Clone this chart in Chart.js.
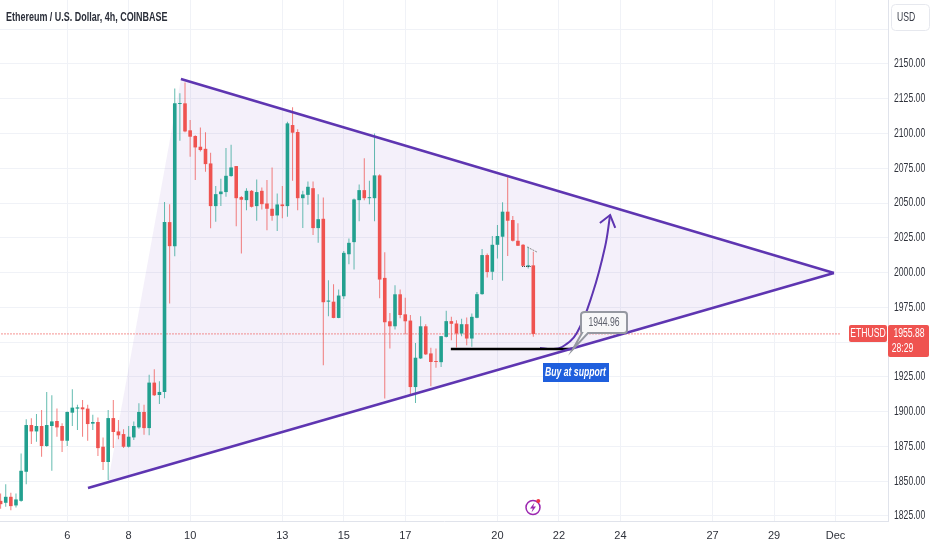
<!DOCTYPE html>
<html lang="en">
<head>
<meta charset="UTF-8">
<title>Ethereum / U.S. Dollar, 4h, COINBASE</title>
<style>
  html, body { margin: 0; padding: 0; background: #fff; }
  canvas { display: block; }
</style>
</head>
<body>
<canvas id="chart" width="932" height="550"></canvas>
<script src="https://cdn.jsdelivr.net/npm/chart.js@4"></script>
<script>
// one value per 4h bar, the first bar is number -13 (bar 0 opens on the 6th)
const firstBar = -13;
const opens = [
  1835.9, 1834.5, 1838.8, 1832.6, 1835.9, 1856.8, 1890.4, 1885.8, 1889.7, 1875.3, 1889.7, 1893.3, 1889.7,
  1879.1, 1899.3, 1902.2, 1903.1, 1902.2, 1891.4, 1892.6, 1874.8, 1863.8, 1895.4, 1885.8, 1883.9, 1874.8, 1881.5, 1888.7, 1899.8, 1888.2, 1920.9, 1912.0, 1914.2,
  2036.3, 2019.0, 2121.2, 2121.7, 2102.3, 2098.2, 2090.5, 2089.0, 2078.5, 2047.8, 2056.4, 2057.9, 2069.4, 2076.6, 2054.3, 2052.1, 2058.8, 2047.8, 2058.8, 2049.7, 2045.9, 2041.1, 2049.0, 2047.8, 2106.1, 2101.1, 2053.5, 2055.9, 2060.7, 2032.0,
  2038.7, 1979.1, 1979.1, 1967.4, 1983.0, 2013.2, 2021.9, 2052.1, 2059.3, 2053.5, 2053.5, 2069.9, 1996.2, 1965.0, 1961.4, 1984.4, 1970.0, 1965.5, 1917.7, 1938.3, 1961.4, 1941.9, 1936.2,
  1935.6, 1953.8, 1965.1, 1963.4, 1956.2, 1962.9, 1952.6, 1967.5, 1984.5, 2012.6, 2000.6, 2020.0, 2025.8, 2043.8, 2037.8, 2022.9, 2020.0, 2004.2, 2005.2
];
const closes = [
  1833.5, 1838.8, 1832.1, 1836.9, 1857.5, 1890.4, 1885.8, 1889.7, 1875.3, 1890.4, 1893.0, 1888.7, 1879.1,
  1899.8, 1902.9, 1903.1, 1901.7, 1891.1, 1892.6, 1873.8, 1863.8, 1895.4, 1885.4, 1883.0, 1874.8, 1882.0, 1889.7, 1899.8, 1888.2, 1920.9, 1911.8, 1914.2, 2036.3,
  2019.0, 2121.7, 2121.7, 2101.5, 2097.7, 2090.0, 2088.1, 2078.0, 2047.8, 2056.4, 2058.3, 2069.6, 2075.6, 2053.5, 2052.4, 2058.8, 2047.3, 2057.9, 2049.2, 2045.9, 2040.8, 2049.0, 2047.8, 2107.3, 2100.6, 2053.5, 2056.2, 2061.7, 2032.0, 2038.4,
  1978.7, 1979.9, 1967.4, 1983.5, 2014.2, 2021.4, 2052.6, 2059.3, 2053.5, 2054.0, 2069.9, 1995.0, 1964.3, 1961.4, 1984.4, 1969.5, 1965.0, 1917.7, 1938.8, 1961.4, 1941.2, 1935.7, 1935.7,
  1954.3, 1965.1, 1963.2, 1956.2, 1962.9, 1952.6, 1968.2, 1984.5, 2012.6, 2000.4, 2020.0, 2026.3, 2043.8, 2037.3, 2022.9, 2019.3, 2004.9, 2005.2, 1955.9
];
const highs = [
  1841.2, 1847.9, 1841.7, 1841.2, 1870.0, 1894.5, 1895.2, 1898.3, 1901.2, 1914.2, 1911.8, 1902.2, 1891.6,
  1900.2, 1916.1, 1905.0, 1908.4, 1905.0, 1897.8, 1895.9, 1881.5, 1901.2, 1908.4, 1894.0, 1887.3, 1889.7, 1893.0, 1906.0, 1905.0, 1926.6, 1930.5, 1921.8, 2050.7,
  2049.2, 2132.3, 2128.9, 2136.6, 2109.7, 2098.7, 2104.4, 2101.0, 2086.2, 2062.2, 2067.5, 2089.5, 2091.9, 2076.6, 2055.0, 2060.7, 2059.3, 2067.0, 2061.2, 2066.5, 2075.6, 2056.9, 2062.2, 2108.5, 2118.8, 2103.0, 2058.8, 2065.5, 2065.5, 2056.4,
  2054.0, 1994.5, 1991.6, 1987.8, 2015.6, 2024.5, 2053.3, 2063.4, 2082.3, 2066.0, 2100.1, 2070.8, 2014.7, 1971.0, 1990.9, 1987.8, 1982.0, 1969.5, 1949.4, 1968.6, 1962.8, 1946.0, 1945.5,
  1954.3, 1972.5, 1968.2, 1965.8, 1966.8, 1967.7, 1970.6, 1986.0, 2016.9, 2013.8, 2026.3, 2034.2, 2050.5, 2068.5, 2040.7, 2035.4, 2020.5, 2018.6, 2015.0
];
const lows = [
  1830.2, 1831.6, 1829.2, 1831.1, 1835.2, 1847.9, 1876.7, 1878.4, 1867.6, 1874.8, 1857.5, 1882.0, 1871.0,
  1875.3, 1889.7, 1886.8, 1882.0, 1879.1, 1886.8, 1868.1, 1858.0, 1850.8, 1873.8, 1880.1, 1873.8, 1874.3, 1879.6, 1887.8, 1883.4, 1883.0, 1911.3, 1905.5, 1909.6,
  1977.7, 2011.8, 2094.8, 2101.0, 2083.3, 2066.5, 2087.1, 2072.5, 2031.9, 2036.5, 2047.8, 2054.5, 2068.9, 2033.4, 2013.7, 2044.9, 2046.8, 2037.2, 2045.4, 2030.5, 2037.2, 2030.0, 2039.1, 2040.1, 2066.0, 2044.9, 2032.0, 2048.7, 2027.1, 2021.4,
  1933.3, 1968.6, 1967.1, 1967.1, 1981.1, 2006.0, 2002.2, 2037.0, 2052.1, 2049.2, 2037.0, 1981.5, 1909.5, 1945.5, 1959.0, 1967.1, 1955.6, 1912.4, 1906.2, 1937.9, 1940.7, 1918.2, 1931.6,
  1932.2, 1953.3, 1951.4, 1946.1, 1954.3, 1947.8, 1946.6, 1967.2, 1984.0, 1996.5, 1994.6, 2010.2, 1994.1, 2011.9, 2022.4, 2019.1, 2004.4, 2003.0, 1953.8
];

// axis ticks
const dayTickBars = [0, 12, 24, 42, 54, 66, 84, 96, 108, 126, 138, 150];
const dayTickLabels = ['6', '8', '10', '13', '15', '17', '20', '22', '24', '27', '29', 'Dec'];
const priceTicks = [1825, 1850, 1875, 1900, 1925, 1950, 1975, 2000, 2025, 2050, 2075, 2100, 2125, 2150, 2175];
const hiddenPriceLabels = [1950, 2175];

// drawings, as [bar, price]
const upperLine = [[22.2, 2139.2], [149.7, 1999.7]];
const lowerLine = [[4.06, 1845.1], [149.7, 1999.7]];
const triangle = [[22.2, 2139.2], [149.7, 1999.7], [7.97, 1849.5], [22.2, 2139.2]];
const supportLine = [[74.9, 1945], [98.75, 1945]];
const curvePath = [[92.3, 1945.8], [94.6, 1945], [96.6, 1946.5], [99.5, 1956.6], [102.6, 1985.3], [105, 2018.4], [106, 2041.4]];
const arrowHead = [[104, 2035.7], [106, 2041.4], [107, 2032.1]];
const dottedFlat = [[88.8, 2004.4], [90.5, 2004.4]];
const dottedSlope = [[89.8, 2018.4], [91.7, 2014.8]];

const lastPrice = 1955.88;
const supportPrice = 1944.96;
const symbolName = 'ETHUSD';
const countdown = '28:29';
const titleText = 'Ethereum / U.S. Dollar, 4h, COINBASE';
const noteText = 'Buy at support';
const currencyText = 'USD';

const UP = '#22a08f', DOWN = '#ef5350';
const UP_WICK = 'rgba(34,160,143,0.7)', DOWN_WICK = 'rgba(239,83,80,0.75)';
const PURPLE = '#5e35b1';
const FONT = '"Liberation Sans", sans-serif';
const SQUEEZE = 0.72; // the reference text is much narrower than any installed face

const toXY = (pts) => pts.map((p) => ({ x: p[0], y: p[1] }));
const isUp = opens.map((o, i) => closes[i] >= o);

function lineSet(pts, extra) {
  return Object.assign({
    type: 'line', data: toXY(pts), borderColor: PURPLE, borderWidth: 2.5,
    pointRadius: 0, fill: false, tension: 0, order: 1, grouped: false
  }, extra);
}

// squeezed text, x is the anchor of the given alignment
function squeezed(ctx, text, x, y, sx, align) {
  ctx.save();
  ctx.translate(x, y);
  ctx.scale(sx, 1);
  ctx.textAlign = align;
  ctx.textBaseline = 'middle';
  ctx.fillText(text, 0, 0);
  ctx.restore();
}

// things that are not series: badges, callout, note, header
const overlay = {
  id: 'overlay',
  afterLayout(chart) {
    const yAxis = chart.scales.y;
    if (yAxis._squeezed) return;
    yAxis._squeezed = true;
    // the label clip box would cut the squeezed text short
    yAxis._computeLabelArea = () => undefined;
    const draw = yAxis.drawLabels.bind(yAxis);
    yAxis.drawLabels = (area) => {
      const ctx = chart.ctx;
      const ax = yAxis.left + 6;
      ctx.save();
      ctx.translate(ax, 0);
      ctx.scale(SQUEEZE, 1);
      ctx.translate(-ax, 0);
      draw(area);
      ctx.restore();
    };
  },
  afterDraw(chart) {
    const { ctx, scales: { x, y } } = chart;
    const py = y.getPixelForValue(lastPrice);
    ctx.save();

    // header
    ctx.fillStyle = '#2a2e39';
    ctx.font = 'bold 13px ' + FONT;
    squeezed(ctx, titleText, 6, 17, 0.69, 'left');

    // currency button
    ctx.strokeStyle = '#e6e8ee';
    ctx.lineWidth = 1;
    ctx.beginPath();
    ctx.roundRect(891.5, 4.5, 38, 26, 4);
    ctx.stroke();
    ctx.fillStyle = '#3a3e49';
    ctx.font = '12px ' + FONT;
    squeezed(ctx, currencyText, 897, 18, SQUEEZE, 'left');

    // price badges
    ctx.fillStyle = DOWN;
    ctx.beginPath();
    ctx.roundRect(849, py - 9, 38, 17, 2);
    ctx.fill();
    ctx.beginPath();
    ctx.roundRect(888, py - 9, 41, 32, 2);
    ctx.fill();
    ctx.fillStyle = '#fff';
    ctx.font = '12px ' + FONT;
    squeezed(ctx, symbolName, 868, py, SQUEEZE, 'center');
    squeezed(ctx, lastPrice.toFixed(2), 909, py, SQUEEZE, 'center');
    squeezed(ctx, countdown, 902.5, py + 15, SQUEEZE, 'center');

    // callout on the support level
    const ax = x.getPixelForValue(supportLine[1][0]);
    const ay = y.getPixelForValue(supportLine[1][1]);
    ctx.strokeStyle = '#9598a1';
    ctx.fillStyle = '#f7f7f8';
    ctx.lineWidth = 2;
    ctx.beginPath();
    ctx.moveTo(585, 312);
    ctx.lineTo(624, 312);
    ctx.quadraticCurveTo(627, 312, 627, 315);
    ctx.lineTo(627, 330);
    ctx.quadraticCurveTo(627, 333, 624, 333);
    ctx.lineTo(588, 333);
    ctx.lineTo(ax, ay);
    ctx.lineTo(582, 333);
    ctx.quadraticCurveTo(581, 333, 581, 330);
    ctx.lineTo(581, 315);
    ctx.quadraticCurveTo(581, 312, 585, 312);
    ctx.closePath();
    ctx.fill();
    ctx.stroke();
    ctx.fillStyle = '#5f626d';
    ctx.font = '12px ' + FONT;
    squeezed(ctx, supportPrice.toFixed(2), 604, 322.5, SQUEEZE, 'center');

    // note
    ctx.fillStyle = '#1f5fdd';
    ctx.fillRect(543, 363, 66, 19);
    ctx.fillStyle = '#fff';
    ctx.font = 'italic bold 12px ' + FONT;
    squeezed(ctx, noteText, 575.5, 372.5, 0.72, 'center');

    // idea marker
    ctx.strokeStyle = '#9c27b0';
    ctx.lineWidth = 1.5;
    ctx.beginPath();
    ctx.arc(533, 507.5, 7, 0, Math.PI * 2);
    ctx.stroke();
    ctx.fillStyle = '#9c27b0';
    ctx.beginPath();
    ctx.moveTo(534.5, 502.5);
    ctx.lineTo(530, 508.5);
    ctx.lineTo(532.8, 508.5);
    ctx.lineTo(531.5, 512.5);
    ctx.lineTo(536, 506.5);
    ctx.lineTo(533.2, 506.5);
    ctx.closePath();
    ctx.fill();
    ctx.fillStyle = '#f23645';
    ctx.beginPath();
    ctx.arc(538.3, 501, 2, 0, Math.PI * 2);
    ctx.fill();
    ctx.restore();
  }
};

new Chart(document.getElementById('chart'), {
  type: 'bar',
  plugins: [overlay],
  data: {
    datasets: [
      lineSet(triangle, {
        borderWidth: 0, borderColor: 'transparent', backgroundColor: 'rgba(103,58,183,0.075)',
        fill: 'shape', order: 9
      }),
      {
        label: 'wicks', grouped: false, order: 6, barThickness: 1, borderWidth: 0, inflateAmount: 0,
        backgroundColor: isUp.map((u) => (u ? UP_WICK : DOWN_WICK)),
        data: lows.map((l, i) => ({ x: firstBar + i, y: [l, highs[i]] }))
      },
      {
        label: 'bodies', grouped: false, order: 5, barThickness: 3.6, borderWidth: 0, inflateAmount: 0, minBarLength: 1,
        backgroundColor: isUp.map((u) => (u ? UP : DOWN)),
        data: opens.map((o, i) => ({ x: firstBar + i, y: [o, closes[i]] }))
      },
      lineSet([[-14, lastPrice], [151, lastPrice]], { borderColor: DOWN, borderWidth: 1.2, borderDash: [1, 2], order: 7 }),
      lineSet(upperLine),
      lineSet(lowerLine),
      lineSet(supportLine, { borderColor: '#000', borderWidth: 2.5 }),
      lineSet(curvePath, { borderWidth: 2, tension: 0.4 }),
      lineSet(arrowHead, { borderWidth: 2 }),
      lineSet(dottedFlat, { borderColor: '#444', borderWidth: 1, borderDash: [1, 1] }),
      lineSet(dottedSlope, { borderColor: '#888', borderWidth: 1, borderDash: [2, 1] })
    ]
  },
  options: {
    responsive: false,
    animation: false,
    layout: { padding: 0 },
    plugins: { legend: { display: false }, tooltip: { enabled: false }, title: { display: false } },
    scales: {
      x: {
        type: 'linear', offset: false, min: -13.12, max: 160.25,
        grid: { color: '#f0f2f7', offset: false, drawTicks: false },
        border: { color: '#e0e3eb' },
        afterFit(s) { s.height = 29; s.paddingLeft = 0; s.paddingRight = 0; },
        afterBuildTicks(s) { s.ticks = dayTickBars.map((v) => ({ value: v })); },
        ticks: {
          autoSkip: false, maxRotation: 0, padding: 8, color: '#2f323b',
          font: { family: FONT, size: 11 },
          callback: (v) => dayTickLabels[dayTickBars.indexOf(v)]
        }
      },
      y: {
        position: 'right', min: 1821.4, max: 2196,
        grid: { color: '#f0f2f7', drawTicks: false },
        border: { color: '#e0e3eb' },
        afterFit(s) { s.width = 44; s.paddingTop = 0; s.paddingBottom = 0; },
        afterBuildTicks(s) { s.ticks = priceTicks.map((v) => ({ value: v })); },
        ticks: {
          padding: 6, color: '#2f323b',
          font: { family: FONT, size: 12 },
          callback: (v) => (hiddenPriceLabels.includes(v) ? '' : v.toFixed(2))
        }
      }
    }
  }
});
</script>
</body>
</html>
